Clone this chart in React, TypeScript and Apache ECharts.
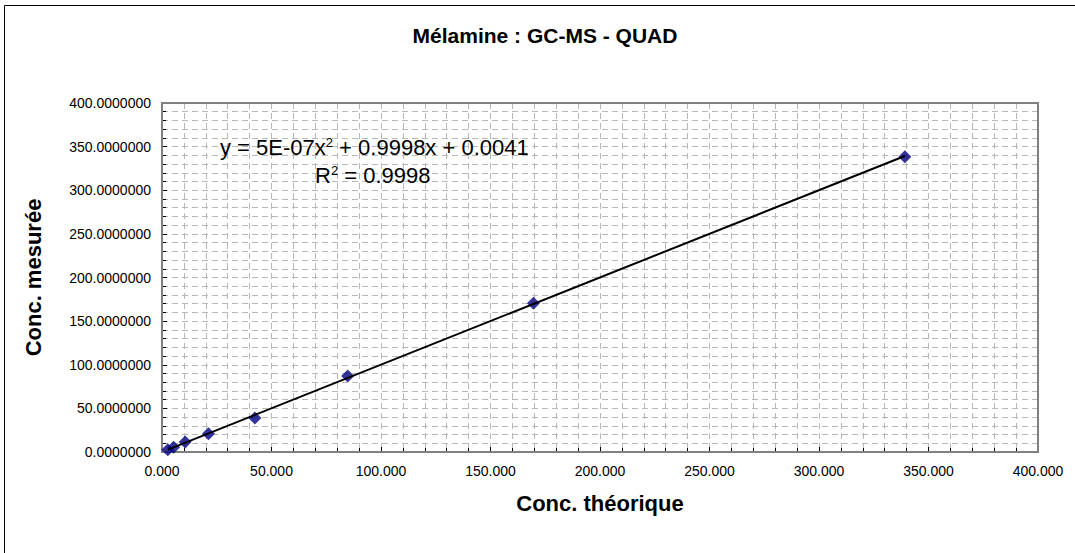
import React, { useEffect, useRef } from "react";
import * as echarts from "echarts";

const titleText = "Mélamine : GC-MS - QUAD";
const xAxisName = "Conc. théorique";
const yAxisName = "Conc. mesurée";

const concTheorique = [2.65, 5.3, 10.6, 21.2, 42.4, 84.8, 169.6, 339.2];
const concMesuree = [2.5, 5.5, 11.5, 21, 39, 87, 170.5, 338.5];

// Trend line end points
const trendX = [2.65, 339.2];
const trendY = [2.7, 339.3];

const equationText = "y = 5E-07x{sup|2} + 0.9998x + 0.0041";
const r2Text = "R{sup|2} = 0.9998";

export default function App() {
  const ref = useRef<HTMLDivElement>(null);
  useEffect(() => {
    document.body.style.margin = "0";
    const chart = echarts.init(ref.current!, null, { renderer: "svg" });
    const font = "'Liberation Sans', Arial, sans-serif";
    const gridLine = { show: true, lineStyle: { color: "#b8b8b8", type: [6, 4] as any, width: 1 } };
    const supStyle = { fontSize: 13, verticalAlign: "top", padding: [0, 0, 10, 0], fontFamily: font, fill: "#000" };
    chart.setOption({
      animation: false,
      backgroundColor: "#ffffff",
      textStyle: { fontFamily: font },
      title: {
        text: titleText,
        left: 540,
        top: 20,
        textAlign: "center",
        textStyle: { fontFamily: font, fontSize: 21, fontWeight: "bold", color: "#000" },
      },
      grid: { left: 162, right: 37, top: 103, bottom: 101, containLabel: false },
      xAxis: {
        type: "value",
        min: 0,
        max: 400,
        interval: 50,
        name: xAxisName,
        nameLocation: "middle",
        nameGap: 40,
        nameTextStyle: { fontFamily: font, fontSize: 22, fontWeight: "bold", color: "#000" },
        axisLine: { show: true, onZero: false, lineStyle: { color: "#000", width: 2 } },
        axisTick: { show: true, inside: true, length: 5, lineStyle: { color: "#000" } },
        minorTick: { show: true, splitNumber: 5, length: 4, lineStyle: { color: "#000" } },
        axisLabel: {
          margin: 12,
          fontSize: 14,
          color: "#000",
          fontFamily: font,
          formatter: (v: number) => v.toFixed(3),
        },
        splitLine: gridLine,
        minorSplitLine: gridLine,
      },
      yAxis: {
        type: "value",
        min: 0,
        max: 400,
        interval: 50,
        name: yAxisName,
        nameLocation: "middle",
        nameGap: 118,
        nameRotate: 90,
        nameTextStyle: { fontFamily: font, fontSize: 22, fontWeight: "bold", color: "#000" },
        axisLine: { show: true, onZero: false, lineStyle: { color: "#000", width: 2 } },
        axisTick: { show: true, inside: true, length: 5, lineStyle: { color: "#000" } },
        minorTick: { show: true, splitNumber: 5, length: 4, lineStyle: { color: "#000" } },
        axisLabel: {
          margin: 11,
          fontSize: 14,
          color: "#000",
          fontFamily: font,
          formatter: (v: number) => v.toFixed(7),
        },
        splitLine: gridLine,
        minorSplitLine: gridLine,
      },
      series: [
        {
          type: "line",
          data: trendX.map((x, i) => [x, trendY[i]]),
          symbol: "none",
          lineStyle: { color: "#000", width: 2 },
          z: 3,
          silent: true,
        },
        {
          type: "scatter",
          data: concTheorique.map((x, i) => [x, concMesuree[i]]),
          symbol: "diamond",
          symbolSize: 13,
          itemStyle: { color: "#000080" },
          z: 2,
        },
      ],
      graphic: [
        {
          type: "rect",
          shape: { x: 4.5, y: 5.5, width: 1200, height: 700 },
          style: { fill: "none", stroke: "#000", lineWidth: 1 },
          silent: true,
          z: 100,
        },
        {
          type: "rect",
          shape: { x: 162, y: 103, width: 876, height: 349 },
          style: { fill: "none", stroke: "#808080", lineWidth: 2 },
          silent: true,
          z: 1,
        },
        {
          type: "text",
          x: 220,
          y: 147,
          style: {
            text: equationText,
            fontFamily: font,
            fontSize: 22,
            fill: "#000",
            verticalAlign: "middle",
            rich: { sup: supStyle },
          },
          z: 50,
        },
        {
          type: "text",
          x: 315,
          y: 175,
          style: {
            text: r2Text,
            fontFamily: font,
            fontSize: 22,
            fill: "#000",
            verticalAlign: "middle",
            rich: { sup: supStyle },
          },
          z: 50,
        },
      ],
    });
    return () => chart.dispose();
  }, []);
  return <div ref={ref} style={{ position: "fixed", left: 0, top: 0, width: 1075, height: 553 }} />;
}
